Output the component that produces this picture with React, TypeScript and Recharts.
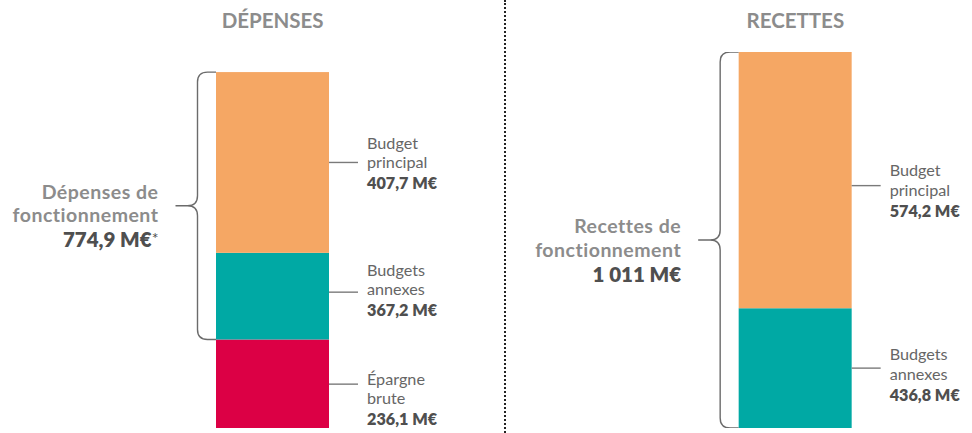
import React from 'react';
import { BarChart, Bar, XAxis, YAxis } from 'recharts';

// ---- data ----
const categories = ['DÉPENSES', '', 'RECETTES'];
// segment heights as drawn (chart units, full right bar = 1 011)
const budgetPrincipal = [486, null, 689];
const budgetsAnnexes = [233, null, 322];
const epargneBrute = [238, null, null];

// label texts
const principalLabel = ['Budget', 'principal'];
const annexesLabel = ['Budgets', 'annexes'];
const epargneLabel = ['Épargne', 'brute'];
const principalValues = ['407,7 M€', '', '574,2 M€'];
const annexesValues = ['367,2 M€', '', '436,8 M€'];
const epargneValues = ['236,1 M€', '', ''];
const fonctionnementTitles = [['Dépenses de', 'fonctionnement'], [], ['Recettes de', 'fonctionnement']];
const fonctionnementTotals = ['774,9 M€', '', '1 011 M€'];
const fonctionnementNotes = ['*', '', ''];

const DOMAIN_MAX = 1011;

const rows = categories.map((name, i) => ({
  name,
  epargne: epargneBrute[i],
  annexes: budgetsAnnexes[i],
  principal: budgetPrincipal[i],
}));

// ---- styling / layout ----
const FONT = 'Lato, "Open Sans", sans-serif';
const COLORS = { principal: '#F5A764', annexes: '#00A9A4', epargne: '#DC0045' };
const TEXTS: Record<string, { lines: string[]; values: string[] }> = {
  principal: { lines: principalLabel, values: principalValues },
  annexes: { lines: annexesLabel, values: annexesValues },
  epargne: { lines: epargneLabel, values: epargneValues },
};
// per label fine offsets: c = connector offset from segment middle, t = text offset from connector
const labelLayout: Record<string, ({ c: number; t: number } | null)[]> = {
  principal: [{ c: 0, t: 5.7 }, null, { c: 5.5, t: 10 }],
  annexes: [{ c: -4, t: 3 }, null, { c: 0, t: 11.7 }],
  epargne: [{ c: 0.4, t: 20 }, null, null],
};

const LABEL_SIZE = 16.2;

const makeShape = (key: string) => (props: any) => {
  const { x, y, width, height, fill, index, payload } = props;
  if (x == null || y == null || !height || !(height > 0)) return null;
  const right = x + width;
  const lay = labelLayout[key][index] || { c: 0, t: 0 };
  const cy = y + height / 2 + lay.c;
  const ty = cy + lay.t;
  const tx = right + 38;
  const txt = TEXTS[key];
  const value = txt.values[index];

  let bracket: React.ReactNode = null;
  if (key === 'principal' && payload) {
    const k = height / payload.principal;
    const top = y;
    const bottom = y + height + (payload.annexes || 0) * k;
    const vx = x - 18.5;
    const tip = x - 40.5;
    const mid = (top + bottom) / 2;
    const r = 10;
    const d = [
      `M ${x} ${top}`,
      `L ${vx + r} ${top}`,
      `Q ${vx} ${top} ${vx} ${top + r}`,
      `L ${vx} ${mid - r}`,
      `Q ${vx} ${mid} ${vx - r} ${mid}`,
      `L ${tip} ${mid}`,
      `M ${vx - r} ${mid}`,
      `Q ${vx} ${mid} ${vx} ${mid + r}`,
      `L ${vx} ${bottom - r}`,
      `Q ${vx} ${bottom} ${vx + r} ${bottom}`,
      `L ${x} ${bottom}`,
    ].join(' ');
    const lx = tip - 17;
    const titles = fonctionnementTitles[index] || [];
    bracket = (
      <g>
        <path d={d} fill="none" stroke="#6b6b6b" strokeWidth={1.4} />
        <text x={lx} y={mid - 7} textAnchor="end" fontFamily={FONT} fontWeight={700} fontSize={19.5} letterSpacing={0.5} fill="#8c8c8c">
          {titles[0]}
        </text>
        <text x={lx} y={mid + 16.5} textAnchor="end" fontFamily={FONT} fontWeight={700} fontSize={19.5} letterSpacing={0.5} fill="#8c8c8c">
          {titles[1]}
        </text>
        <text x={lx} y={mid + 41.5} textAnchor="end" fontFamily={FONT} fontWeight={800} fontSize={20.5} fill="#4f4f4f">
          {fonctionnementTotals[index]}
          {fonctionnementNotes[index] ? (
            <tspan fontWeight={400} fontSize={16} dy={-3}>{fonctionnementNotes[index]}</tspan>
          ) : null}
        </text>
      </g>
    );
  }

  return (
    <g>
      <rect x={x} y={y} width={width} height={height} fill={fill} />
      <line x1={right} x2={right + 29} y1={cy} y2={cy} stroke="#7a7a7a" strokeWidth={1.4} />
      <text x={tx} y={ty - 19.5} fontFamily={FONT} fontSize={LABEL_SIZE} fill="#666666">{txt.lines[0]}</text>
      <text x={tx} y={ty} fontFamily={FONT} fontSize={LABEL_SIZE} fill="#666666">{txt.lines[1]}</text>
      <text x={tx} y={ty + 21} fontFamily={FONT} fontSize={LABEL_SIZE} fontWeight={800} fill="#4f4f4f">{value}</text>
      {bracket}
    </g>
  );
};

export default function App() {
  return (
    <div style={{ position: 'absolute', left: 0, top: 0, width: 972, height: 433, background: '#ffffff', fontFamily: FONT }}>
      <BarChart
        width={972}
        height={433}
        data={rows}
        margin={{ top: 22, right: 46, bottom: 5, left: 142 }}
        barSize={113}
      >
        <XAxis
          dataKey="name"
          orientation="top"
          height={30}
          axisLine={false}
          tickLine={false}
          tickSize={0}
          tickMargin={24}
          interval={0}
          tick={{ fill: '#8c8c8c', fontSize: 20.5, fontWeight: 700, fontFamily: FONT }}
        />
        <YAxis hide domain={[0, DOMAIN_MAX]} allowDataOverflow />
        <Bar dataKey="epargne" stackId="s" fill={COLORS.epargne} shape={makeShape('epargne')} isAnimationActive={false} />
        <Bar dataKey="annexes" stackId="s" fill={COLORS.annexes} shape={makeShape('annexes')} isAnimationActive={false} />
        <Bar dataKey="principal" stackId="s" fill={COLORS.principal} shape={makeShape('principal')} isAnimationActive={false} />
      </BarChart>
      <div
        style={{
          position: 'absolute',
          left: 504,
          top: 0,
          width: 0,
          height: 433,
          borderLeft: '2px dotted #222',
        }}
      />
    </div>
  );
}
